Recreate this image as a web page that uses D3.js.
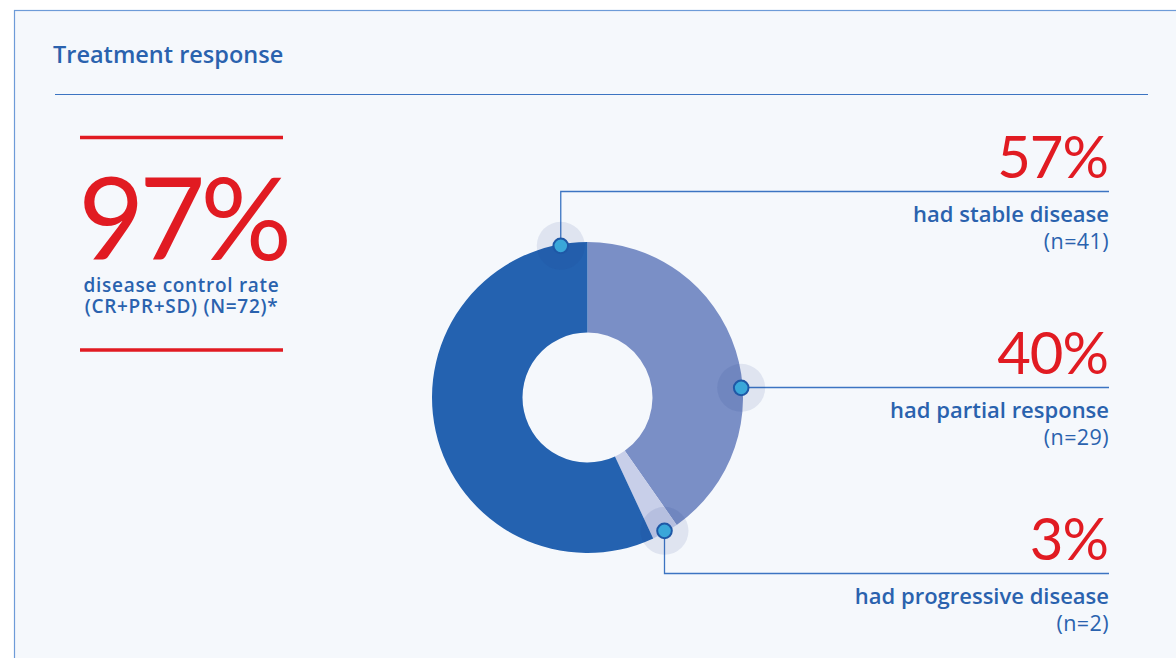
<!DOCTYPE html>
<html>
<head>
<meta charset="utf-8">
<script src="https://cdn.jsdelivr.net/npm/d3@7"></script>
<style>
  html, body { margin: 0; padding: 0; background: #ffffff; }
  svg { display: block; font-family: 'Open Sans', 'Lato', sans-serif; }
  .num { font-family: 'Lato', sans-serif; }
</style>
</head>
<body>
<div id="chart"></div>
<script>
// slices in clockwise order from 12 o'clock
const categories = ['had partial response', 'had progressive disease', 'had stable disease'];
const counts = [29, 2, 41];
const percentLabels = ['40%', '3%', '57%'];
const countLabels = ['(n=29)', '(n=2)', '(n=41)'];

const headlineValue = '97%';
const headlineLines = ['disease control rate', '(CR+PR+SD) (N=72)*'];
const chartTitle = 'Treatment response';

const sliceColors = ['#7a8fc6', '#c8cfe9', '#2462b0'];
const red = '#e11b22';
const blue = '#2a62ae';
const lineBlue = '#3c74c2';

const width = 1176;
const height = 658;

// where each callout sits: marker angle (deg, null = slice middle), leader type, rule y
const callouts = [
    { angle: 86.4, leader: 'h', ruleY: 387.5 },
    { angle: null, leader: 'v', ruleY: 573.5 },
    { angle: 350, leader: 'v', ruleY: 191.5 }
];

function drawChart() {
    const svg = d3.select('#chart').append('svg')
        .attr('width', width)
        .attr('height', height);

    // panel
    svg.append('rect')
        .attr('x', 14.5)
        .attr('y', 10.5)
        .attr('width', 1300)
        .attr('height', 800)
        .attr('fill', '#f5f8fc')
        .attr('stroke', '#6d9bd8')
        .attr('stroke-width', 1.2);

    svg.append('text')
        .attr('x', 53)
        .attr('y', 63)
        .attr('fill', blue)
        .attr('font-size', 23.5)
        .attr('font-weight', 600)
        .text(chartTitle);

    svg.append('line')
        .attr('x1', 55).attr('x2', 1148)
        .attr('y1', 94.5).attr('y2', 94.5)
        .attr('stroke', lineBlue)
        .attr('stroke-width', 1.2);

    drawHeadline(svg);
    drawDonut(svg);
}

function drawHeadline(svg) {
    const g = svg.append('g');
    const x0 = 80, x1 = 283, cx = (x0 + x1) / 2;

    [137.5, 350].forEach(y => {
        g.append('line')
            .attr('x1', x0).attr('x2', x1)
            .attr('y1', y).attr('y2', y)
            .attr('stroke', red)
            .attr('stroke-width', 3.5);
    });

    g.append('text')
        .attr('class', 'num')
        .attr('x', cx + 1)
        .attr('y', 260)
        .attr('text-anchor', 'middle')
        .attr('fill', red)
        .attr('font-size', 114)
        .attr('letter-spacing', -5)
        .text(headlineValue);

    g.selectAll('.sub')
        .data(headlineLines)
        .enter()
        .append('text')
        .attr('class', 'sub')
        .attr('x', cx)
        .attr('y', (d, i) => 292 + i * 21)
        .attr('text-anchor', 'middle')
        .attr('fill', blue)
        .attr('font-size', 19)
        .attr('font-weight', 600)
        .attr('letter-spacing', 0.7)
        .text(d => d);
}

function drawDonut(svg) {
    const cx = 587.5, cy = 397.5;
    const outerR = 155.5, innerR = 65;
    const markerR = 154;

    const data = categories.map((c, i) => ({
        category: c,
        count: counts[i],
        pct: percentLabels[i],
        n: countLabels[i],
        color: sliceColors[i],
        layout: callouts[i]
    }));

    const pie = d3.pie()
        .sort(null)
        .value(d => d.count);

    const arc = d3.arc()
        .innerRadius(innerR)
        .outerRadius(outerR);

    const donut = svg.append('g')
        .attr('transform', 'translate(' + cx + ', ' + cy + ')');

    const arcs = pie(data);

    donut.selectAll('path')
        .data(arcs)
        .enter()
        .append('path')
        .attr('d', arc)
        .attr('fill', a => a.data.color);

    const labelRight = 1109;

    arcs.forEach(a => {
        const deg = a.data.layout.angle !== null
            ? a.data.layout.angle
            : (a.startAngle + a.endAngle) / 2 * 180 / Math.PI;
        const rad = deg * Math.PI / 180;
        const mx = cx + markerR * Math.sin(rad);
        const my = cy - markerR * Math.cos(rad);
        const ruleY = a.data.layout.ruleY;

        // leader line
        let points;
        if (a.data.layout.leader === 'h') {
            points = [[mx, ruleY], [labelRight, ruleY]];
        } else {
            points = [[mx, my], [mx, ruleY], [labelRight, ruleY]];
        }
        svg.append('path')
            .attr('d', d3.line()(points))
            .attr('fill', 'none')
            .attr('stroke', lineBlue)
            .attr('stroke-width', 1.3);

        // halo + marker
        svg.append('circle')
            .attr('cx', mx).attr('cy', my)
            .attr('r', 24)
            .attr('fill', '#1c3f8a')
            .attr('fill-opacity', 0.1);

        svg.append('circle')
            .attr('cx', mx).attr('cy', my)
            .attr('r', 7.3)
            .attr('fill', '#3aa7d9')
            .attr('stroke', '#1f58a6')
            .attr('stroke-width', 2);

        // labels
        svg.append('text')
            .attr('class', 'num')
            .attr('x', labelRight - 1)
            .attr('y', ruleY - 13.5)
            .attr('text-anchor', 'end')
            .attr('fill', red)
            .attr('font-size', 58)
            .attr('letter-spacing', -1)
            .text(a.data.pct);

        svg.append('text')
            .attr('x', labelRight)
            .attr('y', ruleY + 30.5)
            .attr('text-anchor', 'end')
            .attr('fill', blue)
            .attr('font-size', 22)
            .attr('font-weight', 600)
            .text(a.data.category);

        svg.append('text')
            .attr('x', labelRight)
            .attr('y', ruleY + 57)
            .attr('text-anchor', 'end')
            .attr('fill', blue)
            .attr('font-size', 21.5)
            .attr('letter-spacing', 0.4)
            .text(a.data.n);
    });
}

drawChart();
</script>
</body>
</html>
